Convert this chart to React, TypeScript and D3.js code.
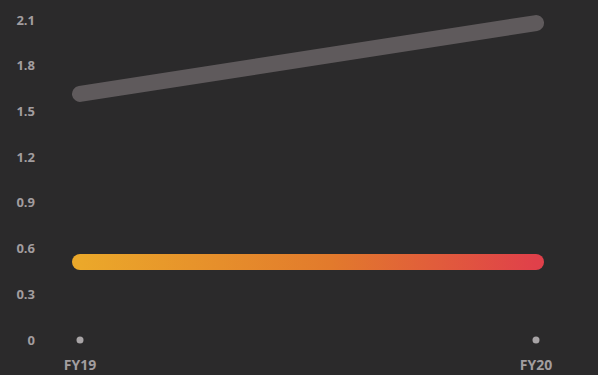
import React from "react";
import * as d3 from "d3";

const categories = ["FY19", "FY20"];
const grayValues = [1.615, 2.08];
const orangeValues = [0.512, 0.512];
const yTicks = [0, 0.3, 0.6, 0.9, 1.2, 1.5, 1.8, 2.1];
const yTickLabels = ["0", "0.3", "0.6", "0.9", "1.2", "1.5", "1.8", "2.1"];

export default function App() {
  const W = 598;
  const H = 375;
  const x = d3.scalePoint<string>().domain(categories).range([80, 536]);
  const y = d3.scaleLinear().domain([0, 2.1]).range([340, 20]);
  const line = d3
    .line<number>()
    .x((_, i) => x(categories[i]) as number)
    .y((d) => y(d));
  const font = "'Open Sans', 'Noto Sans', sans-serif";
  return (
    <svg
      width={W}
      height={H}
      style={{ position: "absolute", left: 0, top: 0, background: "#2b2a2b" }}
    >
      <defs>
        <linearGradient id="og" x1={x("FY19")} x2={x("FY20")} y1={0} y2={0} gradientUnits="userSpaceOnUse">
          <stop offset="0%" stopColor="#eba82a" />
          <stop offset="55%" stopColor="#e27a2c" />
          <stop offset="100%" stopColor="#e0404a" />
        </linearGradient>
      </defs>
      <rect width={W} height={H} fill="#2b2a2b" />
      {yTicks.map((t, i) => (
        <text
          key={t}
          x={35}
          y={y(t)}
          dy="0.35em"
          textAnchor="end"
          fill="#a29d9f"
          fontFamily={font}
          fontWeight={700}
          fontSize={13}
        >
          {yTickLabels[i]}
        </text>
      ))}
      {categories.map((c) => (
        <g key={c}>
          <circle cx={x(c)} cy={y(0)} r={3.5} fill="#a8a4a6" />
          <text
            x={x(c)}
            y={365}
            dy="0.35em"
            textAnchor="middle"
            fill="#a29d9f"
            fontFamily={font}
            fontWeight={700}
            fontSize={14}
          >
            {c}
          </text>
        </g>
      ))}
      <path
        d={line(grayValues) || ""}
        fill="none"
        stroke="#5f5a5c"
        strokeWidth={16}
        strokeLinecap="round"
      />
      <path
        d={line(orangeValues) || ""}
        fill="none"
        stroke="url(#og)"
        strokeWidth={16}
        strokeLinecap="round"
      />
    </svg>
  );
}
